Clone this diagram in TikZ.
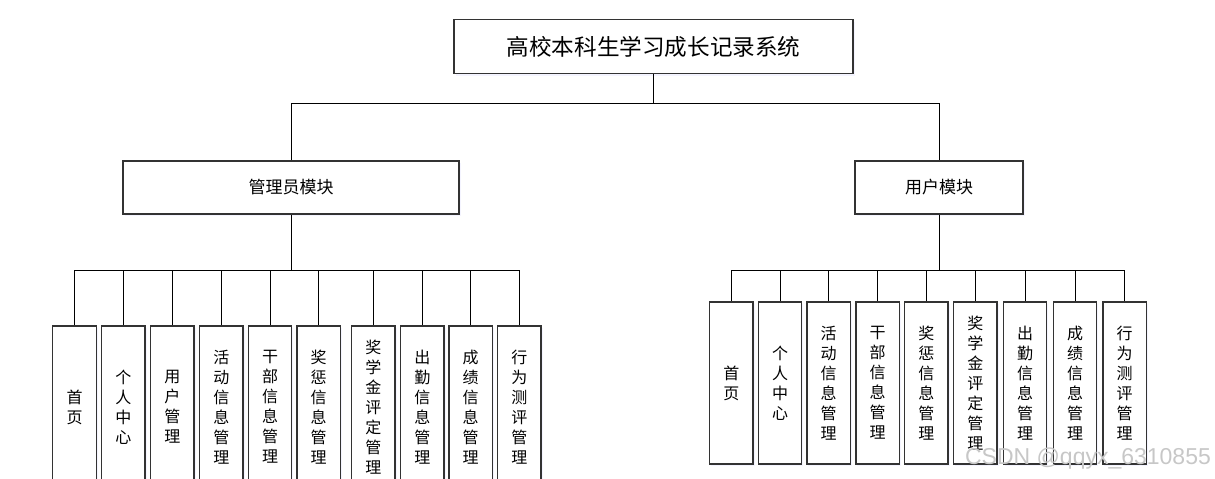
\documentclass[tikz,border=0pt]{standalone}
\usepackage{fontspec}
\newfontfamily\cjk{Noto Sans CJK SC}
\newfontfamily\wmfont{Liberation Sans}
\usetikzlibrary{shadows}
\tikzset{
  box/.style={draw=black!80,line width=1.2pt,fill=white,inner sep=0pt,
    drop shadow={shadow xshift=1.5pt,shadow yshift=-2pt,opacity=0.35,fill=blue!12}},
  topbox/.style={box,minimum width=399pt,minimum height=54pt,font=\cjk\fontsize{22.6}{26}\selectfont},
  modbox/.style={box,minimum height=53pt,font=\cjk\fontsize{17}{20}\selectfont},
  leafbox/.style={box,minimum width=43.5pt,minimum height=162pt,text width=20pt,align=center,
    font=\cjk\fontsize{16}{20}\selectfont},
  link/.style={draw=black,line width=0.9pt}
}
\begin{document}
\begin{tikzpicture}[x=1pt,y=-1pt]
	\useasboundingbox (0,0) rectangle (1215,479);
	\clip (0,0) rectangle (1215,479);
	\def\ay{407}  % admin leaves
	\def\uy{383}  % user leaves
	\node[topbox] (sys) at (653.5,46.5) {高校本科生学习成长记录系统};
	\node[modbox,minimum width=336pt] (admin) at (291,187.5) {管理员模块};
	\node[modbox,minimum width=168pt] (user) at (939,187.5) {用户模块};
	\coordinate (bus) at (653.5,103.5);
	\coordinate (abus) at (291,270);
	\coordinate (ubus) at (939,270.5);
	\draw[link] (sys) -- (bus);
	\draw[link] (admin.north) |- (bus) -| (user.north);
	\draw[link] (admin) -- (abus);
	\draw[link] (user) -- (ubus);
	\foreach \n/\x/\t in {1/74.6/{首\\页},2/123.3/{个\\人\\中\\心},3/172.3/{用\\户\\管\\理},
		4/221.3/{活\\动\\信\\息\\管\\理},5/270/{干\\部\\信\\息\\管\\理},6/318.7/{奖\\惩\\信\\息\\管\\理},
		7/373.3/{奖\\学\\金\\评\\定\\管\\理},8/422.3/{出\\勤\\信\\息\\管\\理},
		9/470.7/{成\\绩\\信\\息\\管\\理},10/519.3/{行\\为\\测\\评\\管\\理}}{
		\node[leafbox] (a\n) at (\x,\ay) {\t};
		\draw[link] (abus) -| (a\n.north);
	}
	\foreach \n/\x/\t in {1/731.3/{首\\页},2/780/{个\\人\\中\\心},3/828.7/{活\\动\\信\\息\\管\\理},
		4/877.7/{干\\部\\信\\息\\管\\理},5/926.3/{奖\\惩\\信\\息\\管\\理},6/975.3/{奖\\学\\金\\评\\定\\管\\理},
		7/1025/{出\\勤\\信\\息\\管\\理},8/1075/{成\\绩\\信\\息\\管\\理},9/1124.7/{行\\为\\测\\评\\管\\理}}{
		\node[leafbox] (u\n) at (\x,\uy) {\t};
		\draw[link] (ubus) -| (u\n.north);
	}
	\node[text=black!22,font=\wmfont\fontsize{23}{26}\selectfont] (mark) at (1088,459) {CSDN @qqyx\_6310855};
\end{tikzpicture}
\end{document}
